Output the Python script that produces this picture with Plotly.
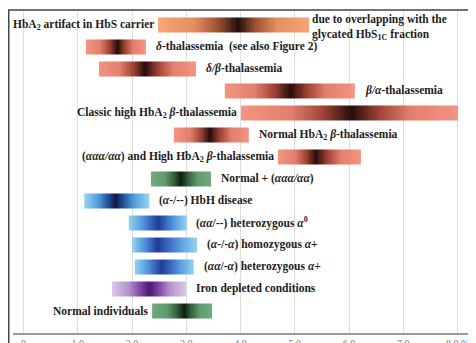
import numpy as np
import plotly.graph_objects as go

# ---- data (HbA2 %) ----
labels = [
    "HbA<sub>2</sub> artifact in HbS carrier",
    "<i>δ</i>-thalassemia  (see also Figure 2)",
    "<i>δ/β</i>-thalassemia",
    "<i>β/α</i>-thalassemia",
    "Classic high HbA<sub>2</sub> <i>β</i>-thalassemia",
    "Normal HbA<sub>2</sub> <i>β</i>-thalassemia",
    "(<i>ααα/αα</i>) and High HbA<sub>2</sub> <i>β</i>-thalassemia",
    "Normal + (<i>ααα/αα</i>)",
    "(<i>α</i>-/--) HbH disease",
    "(<i>αα</i>/--) heterozygous <i>α</i><sup>0</sup>",
    "(<i>α</i>-/-<i>α</i>) homozygous <i>α</i>+",
    "(<i>αα</i>/-<i>α</i>) heterozygous <i>α</i>+",
    "Iron depleted conditions",
    "Normal individuals",
]
range_start = [2.48, 1.15, 1.39, 3.71, 4.01, 2.77, 4.69, 2.35, 1.12, 1.94, 2.00, 2.05, 1.63, 2.37]
range_end   = [5.26, 2.26, 3.18, 6.11, 8.01, 4.16, 6.22, 3.46, 2.31, 3.00, 3.20, 3.14, 3.00, 3.47]
range_peak  = [3.95, 1.74, 2.24, 4.93, 6.05, 3.44, 5.39, 2.90, 1.69, 2.48, 2.47, 2.55, 2.33, 2.96]
families    = ["orange", "red", "red", "red", "red", "red", "red", "green",
               "navy", "blue", "blue", "blue", "purple", "green"]
label_side  = ["left", "right", "right", "right", "left", "right", "left", "right",
               "right", "right", "right", "right", "right", "left"]
extra_note = "due to overlapping with the<br>glycated HbS<sub>1C</sub> fraction"

tick_vals = [0, 1, 2, 3, 4, 5, 6, 7, 8]
tick_text = ["0", "1.0", "2.0", "3.0", "4.0", "5.0", "6.0", "7.0", "8.0 %"]

# ---- styles ----
scales = {
    "orange": [[0, "#f6a46f"], [0.45, "#e5895a"], [0.75, "#9c4a2c"], [1, "#1a0600"]],
    "red":    [[0, "#f3917d"], [0.45, "#e27a67"], [0.75, "#9a3a2b"], [1, "#1e0402"]],
    "green":  [[0, "#6aa978"], [0.45, "#5b9869"], [0.75, "#2f5c38"], [1, "#061608"]],
    "navy":   [[0, "#92d3f3"], [0.45, "#4a9ad8"], [0.75, "#1e4c9c"], [1, "#081238"]],
    "blue":   [[0, "#90d1f3"], [0.45, "#4d97da"], [0.8, "#2a56b6"], [1, "#1a3592"]],
    "purple": [[0, "#dcc6e6"], [0.45, "#b18dc9"], [0.75, "#7a3ea0"], [1, "#44106a"]],
}
half_h = 0.34
N = 120
SERIF = "Liberation Serif, Times New Roman, Times, DejaVu Serif, serif"

fig = go.Figure()
for i in range(len(labels)):
    s, e, p = range_start[i], range_end[i], range_peak[i]
    edges = np.linspace(s, e, N + 1)
    centers = (edges[:-1] + edges[1:]) / 2
    z = np.where(centers <= p, (centers - s) / (p - s), (e - centers) / (e - p))
    z = np.clip(z, 0, 1)
    fig.add_trace(go.Heatmap(
        x=edges, y=[i - half_h, i + half_h], z=[z],
        colorscale=scales[families[i]], zmin=0, zmax=1,
        showscale=False, hoverinfo="skip", opacity=0.96,
    ))

font = dict(family=SERIF, size=11.5, color="#1c1c1c")
for i, lab in enumerate(labels):
    if label_side[i] == "right":
        fig.add_annotation(x=range_end[i], y=i, text="<b>" + lab + "</b>", xanchor="left", xshift=8,
                           showarrow=False, font=font)
    else:
        fig.add_annotation(x=range_start[i], y=i, text="<b>" + lab + "</b>", xanchor="right", xshift=-2,
                           showarrow=False, font=font)
fig.add_annotation(x=range_end[0], y=0, text="<b>" + extra_note.replace("<br>", "</b><br><b>") + "</b>",
                   xanchor="left", xshift=1, yshift=-3, align="left", showarrow=False, font=font)

# outer frame
fig.add_shape(type="rect", xref="paper", yref="paper", x0=-0.0092, x1=1.05, y0=-0.2, y1=1.0,
              line=dict(color="#444", width=1.5), fillcolor="rgba(0,0,0,0)", layer="above")

# the page body adds an 8px offset, so the figure is 8px smaller and margins shifted
fig.update_layout(
    width=468, height=335,
    margin=dict(l=5, r=0, t=2, b=10, autoexpand=False),
    paper_bgcolor="white", plot_bgcolor="white",
    showlegend=False,
    font=dict(family=SERIF),
    xaxis=dict(range=[-0.194, 8.34], tickvals=tick_vals, ticktext=tick_text,
               showgrid=True, gridcolor="#dedede", gridwidth=1, zeroline=False,
               showline=True, linecolor="#9a9a9a", linewidth=2, ticks="", automargin=False,
               tickfont=dict(family=SERIF, size=10, color="#777")),
    yaxis=dict(range=[14.0, -0.68], showgrid=False, zeroline=False, automargin=False,
               showticklabels=False, ticks="", showline=False),
)

fig.write_html("out.html")
